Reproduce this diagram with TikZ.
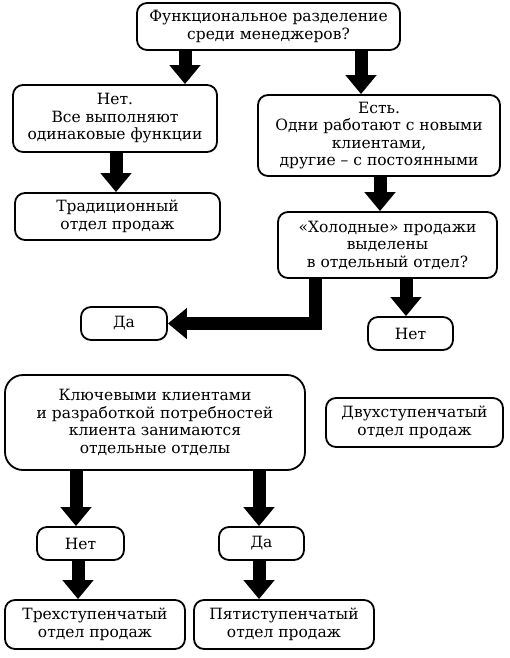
\documentclass[tikz,border=0pt]{standalone}
\usepackage{fontspec}
\setmainfont{DejaVu Serif}
\usetikzlibrary{arrows.meta}

\begin{document}
\begin{tikzpicture}[x=1pt,y=-1pt]
  \tikzset{%
    box/.style={draw,line width=1.8pt,rounded corners=10pt,align=center,
      inner sep=1pt,font=\fontsize{15.5}{17.5}\selectfont},
    blk/.style={line width=13pt,-{Triangle[width=30pt,length=19pt]}},
  }
  \useasboundingbox (0,0) rectangle (510,658);
  % upper part
  \node[box,minimum width=263pt,minimum height=47pt] (q1) at (268.5,26.5)
    {Функциональное разделение\\среди менеджеров?};
  \node[box,minimum width=204pt,minimum height=67pt] (no1) at (115,118.5)
    {Нет.\\Все выполняют\\одинаковые функции};
  \node[box,minimum width=242pt,minimum height=81pt] (yes1) at (379,135.5)
    {Есть.\\Одни работают с новыми\\клиентами,\\другие – с постоянными};
  \node[box,minimum width=205pt,minimum height=47pt] (trad) at (117.5,216.5)
    {Традиционный\\отдел продаж};
  \node[box,minimum width=219pt,minimum height=66pt] (cold) at (387.5,245)
    {«Холодные» продажи\\выделены\\в отдельный отдел?};
  \node[box,minimum width=86pt,minimum height=33pt] (da1) at (124,323.5) {Да};
  \node[box,minimum width=85pt,minimum height=33pt] (net1) at (410.5,333.5) {Нет};
  % lower part
  \node[box,rounded corners=18pt,minimum width=300pt,minimum height=95pt] (key) at (155,422.5)
    {Ключевыми клиентами\\и разработкой потребностей\\клиента занимаются\\отдельные отделы};
  \node[box,minimum width=177pt,minimum height=49pt] (two) at (414.5,422.5)
    {Двухступенчатый\\отдел продаж};
  \node[box,minimum width=87pt,minimum height=33pt] (net2) at (80.5,543.5) {Нет};
  \node[box,minimum width=85pt,minimum height=33pt] (da2) at (261.5,543.5) {Да};
  \node[box,minimum width=180pt,minimum height=49pt] (three) at (95,624.5)
    {Трехступенчатый\\отдел продаж};
  \node[box,minimum width=180pt,minimum height=49pt] (five) at (284,624.5)
    {Пятиступенчатый\\отдел продаж};
  % block arrows
  \draw[blk] (q1.south -| 185,0) -- (no1.north -| 185,0);
  \draw[blk] (q1.south -| 361,0) -- (yes1.north -| 361,0);
  \draw[blk] (no1.south -| 116,0) -- (trad.north -| 116,0);
  \draw[blk] (yes1.south -| 380,0) -- (cold.north -| 380,0);
  \draw[blk,line join=miter] (cold.south -| 315,0) |- (da1.east);%<- elbow
  \draw[blk] (cold.south -| 406,0) -- (net1.north -| 406,0);
  \draw[blk] (key.south -| 76,0) -- (net2.north -| 76,0);
  \draw[blk] (key.south -| 259,0) -- (da2.north -| 259,0);
  \draw[blk] (net2.south -| 78,0) -- (three.north -| 78,0);
  \draw[blk] (da2.south -| 259,0) -- (five.north -| 259,0);
\end{tikzpicture}
\end{document}
